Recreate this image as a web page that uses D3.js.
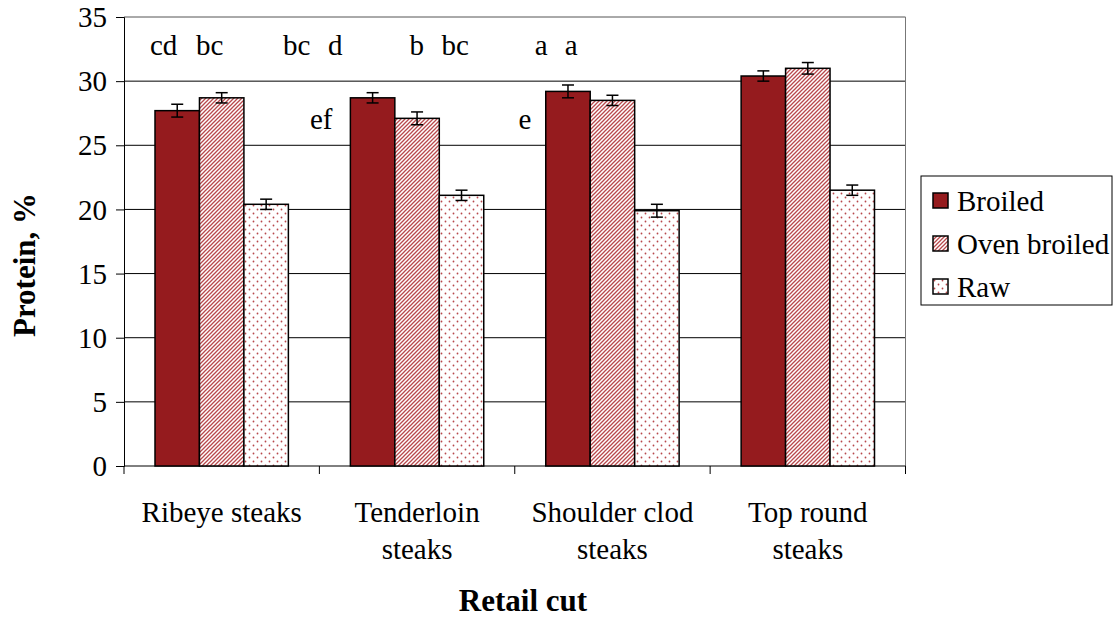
<!DOCTYPE html>
<html>
<head>
<meta charset="utf-8">
<script src="https://cdn.jsdelivr.net/npm/d3@7"></script>
<style>
  body { margin: 0; background: #fff; }
</style>
</head>
<body>
<div id="chart"></div>
<script>
// data
const cuts = ['Ribeye steaks', 'Tenderloin steaks', 'Shoulder clod steaks', 'Top round steaks'];
const cutLines = [['Ribeye steaks'], ['Tenderloin', 'steaks'], ['Shoulder clod', 'steaks'], ['Top round', 'steaks']];
const methods = ['Broiled', 'Oven broiled', 'Raw'];
const broiled = [27.7, 28.7, 29.2, 30.4];
const ovenBroiled = [28.7, 27.1, 28.5, 31.0];
const raw = [20.4, 21.1, 19.9, 21.5];
const broiledErr = [0.5, 0.4, 0.5, 0.4];
const ovenErr = [0.4, 0.5, 0.4, 0.45];
const rawErr = [0.4, 0.4, 0.5, 0.4];
const yTicks = [0, 5, 10, 15, 20, 25, 30, 35];
// letter annotations: text, category index, x offset in px from category start, y value
const letters = [
  ['cd', 0, 26, 32.0], ['bc', 0, 72, 32.0],
  ['bc', 0, 159, 32.0], ['d', 0, 204, 32.0],
  ['b', 1, 90, 32.0], ['bc', 1, 122, 32.0],
  ['a', 2, 20, 32.0], ['a', 2, 50, 32.0],
  ['ef', 0, 186, 26.3], ['e', 1, 199, 26.3]
];

const W = 1115, H = 618;
const plotL = 124, plotR = 905.5, plotT = 17, plotB = 466;
const FONT = '"Liberation Serif"';

const svg = d3.select('#chart').append('svg')
  .attr('width', W).attr('height', H);

function txt(sel, size) {
  return sel.style('font-family', FONT).style('font-size', size + 'px').style('fill', '#000');
}

const defs = svg.append('defs');
const stripe = defs.append('pattern')
  .attr('id', 'stripe').attr('patternUnits', 'userSpaceOnUse')
  .attr('width', 4).attr('height', 4);
stripe.append('rect').attr('width', 4).attr('height', 4).attr('fill', '#fff');
stripe.append('path').attr('d', 'M-1,1 l2,-2 M0,4 l4,-4 M3,5 l2,-2')
  .attr('stroke', '#b8484c').attr('stroke-width', 1.3);

const dots = defs.append('pattern')
  .attr('id', 'dots').attr('patternUnits', 'userSpaceOnUse')
  .attr('width', 8).attr('height', 8);
dots.append('rect').attr('width', 8).attr('height', 8).attr('fill', '#fff');
dots.append('circle').attr('cx', 1.5).attr('cy', 1.5).attr('r', 0.9).attr('fill', '#b8484c');
dots.append('circle').attr('cx', 5.5).attr('cy', 5.5).attr('r', 0.9).attr('fill', '#b8484c');

const fills = ['#951b1e', 'url(#stripe)', 'url(#dots)'];
const series = [broiled, ovenBroiled, raw];
const errs = [broiledErr, ovenErr, rawErr];

const y = d3.scaleLinear().domain([0, 35]).range([plotB, plotT]);
const x0 = d3.scaleBand().domain(cuts).range([plotL, plotR]);
const x1 = d3.scaleBand().domain(methods).range([31, x0.bandwidth() - 31]);

// gridlines
svg.append('g').selectAll('line')
  .data(yTicks.filter(d => d > 0))
  .enter().append('line')
  .attr('x1', plotL).attr('x2', plotR)
  .attr('y1', d => y(d)).attr('y2', d => y(d))
  .attr('stroke', d => d === 35 ? '#555' : '#000')
  .attr('stroke-width', 1);

svg.append('line')
  .attr('x1', plotR).attr('x2', plotR).attr('y1', plotT).attr('y2', plotB)
  .attr('stroke', '#777').attr('stroke-width', 1);

// y axis
const yAxis = d3.axisLeft(y).tickValues(yTicks).tickSize(8).tickPadding(9);
const gy = svg.append('g').attr('transform', `translate(${plotL},0)`).call(yAxis)
  .attr('font-family', null).attr('font-size', null);
gy.select('.domain').attr('stroke', '#000');
gy.selectAll('.tick line').attr('stroke', '#000');
txt(gy.selectAll('.tick text'), 29).attr('dy', '0.33em');

// x axis
const xAxis = d3.axisBottom(x0).tickSize(0).tickFormat('');
const gx = svg.append('g').attr('transform', `translate(0,${plotB})`).call(xAxis);
gx.select('.domain').attr('stroke', '#000').attr('d', `M${plotL},0H${plotR}`);
const xTickPos = cuts.map(c => x0(c)).concat([plotR]);
gx.selectAll('.xt').data(xTickPos).enter().append('line')
  .attr('x1', d => d).attr('x2', d => d).attr('y1', 0).attr('y2', 8)
  .attr('stroke', '#000');

cutLines.forEach((lines, i) => {
  lines.forEach((l, j) => {
    txt(svg.append('text'), 29)
      .attr('x', x0(cuts[i]) + x0.bandwidth() / 2)
      .attr('y', 522 + j * 37)
      .attr('text-anchor', 'middle')
      .text(l);
  });
});

// bars
methods.forEach((m, s) => {
  const g = svg.append('g');
  g.selectAll('rect').data(series[s]).enter().append('rect')
    .attr('x', (d, i) => x0(cuts[i]) + x1(m))
    .attr('y', d => y(d))
    .attr('width', x1.bandwidth())
    .attr('height', d => y(0) - y(d))
    .attr('fill', fills[s])
    .attr('stroke', '#000')
    .attr('stroke-width', 1.5);
  // error bars
  series[s].forEach((v, i) => {
    const cx = x0(cuts[i]) + x1(m) + x1.bandwidth() / 2;
    const e = errs[s][i];
    const eg = g.append('g').attr('stroke', '#000').attr('stroke-width', 1.5);
    eg.append('line').attr('x1', cx).attr('x2', cx).attr('y1', y(v - e)).attr('y2', y(v + e));
    eg.append('line').attr('x1', cx - 6).attr('x2', cx + 6).attr('y1', y(v + e)).attr('y2', y(v + e));
    eg.append('line').attr('x1', cx - 6).attr('x2', cx + 6).attr('y1', y(v - e)).attr('y2', y(v - e));
  });
});

// letter annotations
txt(svg.append('g').selectAll('text').data(letters).enter().append('text'), 29)
  .attr('x', d => x0(cuts[d[1]]) + d[2])
  .attr('y', d => y(d[3]))
  .text(d => d[0]);

// axis titles
txt(svg.append('text'), 31)
  .attr('x', 523).attr('y', 611)
  .attr('text-anchor', 'middle')
  .style('font-weight', 'bold')
  .text('Retail cut');

txt(svg.append('text'), 31)
  .attr('transform', 'translate(35,265) rotate(-90)')
  .attr('text-anchor', 'middle')
  .style('font-weight', 'bold')
  .text('Protein, %');

// legend
const lg = svg.append('g').attr('transform', 'translate(921,176)');
lg.append('rect').attr('width', 191).attr('height', 129)
  .attr('fill', '#fff').attr('stroke', '#000').attr('stroke-width', 1);
methods.forEach((m, s) => {
  const row = lg.append('g').attr('transform', `translate(12,${17 + s * 43})`);
  row.append('rect').attr('width', 15).attr('height', 15)
    .attr('fill', fills[s]).attr('stroke', '#000').attr('stroke-width', 1.5);
  txt(row.append('text'), 29).attr('x', 24).attr('y', 18).text(m);
});
</script>
</body>
</html>
